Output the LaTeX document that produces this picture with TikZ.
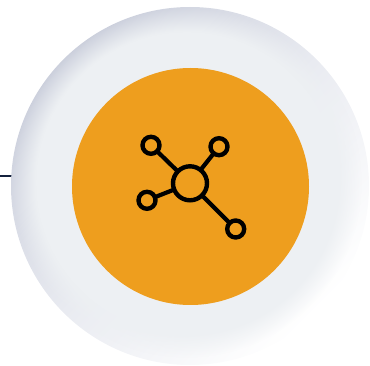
\documentclass[tikz,border=0pt]{standalone}
\usetikzlibrary{fadings}
\definecolor{discface}{HTML}{EDF0F3}
\definecolor{discrim}{HTML}{CBCFDC}
\definecolor{discmid}{HTML}{E9EBF1}
\definecolor{orangefill}{HTML}{EE9E1E}
\definecolor{navyline}{HTML}{14213D}
\pgfdeclareradialshading{discfadeshade}{\pgfpointorigin}{
  color(0bp)=(pgftransparent!0);
  color(21.5bp)=(pgftransparent!0);
  color(24.9bp)=(pgftransparent!100);
  color(50bp)=(pgftransparent!100)}
\pgfdeclarefading{discfade}{\pgfuseshading{discfadeshade}}
\tikzset{
  hubnode/.style={circle,draw=black,line width=4.4pt,inner sep=0pt,outer sep=0pt,minimum size=34pt},
  leafnode/.style={circle,draw=black,line width=4.4pt,inner sep=0pt,outer sep=0pt,minimum size=17pt},
  spoke/.style={draw=black,line width=4.2pt}
}
\begin{document}
\begin{tikzpicture}[x=1pt,y=-1pt]
\useasboundingbox (0,0) rectangle (370,366);
\coordinate (lineend) at (0,176);
\coordinate (discedge) at (12,176);
\draw[navyline,line width=1.4pt] (lineend) -- (discedge);
\shade[top color=discrim,bottom color=white,middle color=discmid,shading angle=45] (190,186) circle[radius=179];
\fill[discface,path fading=discfade,fit fading=true] (186.5,182.5) circle[radius=175];
\fill[orangefill] (190.5,186.5) circle[radius=118.5];
\node[hubnode] (hub) at (190,183.3) {};
\node[leafnode] (a) at (151,145.3) {};
\node[leafnode] (b) at (219,146.7) {};
\node[leafnode] (c) at (147,200.3) {};
\node[leafnode] (d) at (235.7,229) {};
\draw[spoke] (hub) -- (a);
\draw[spoke] (hub) -- (b);
\draw[spoke] (hub) -- (c);
\draw[spoke] (hub) -- (d);
\end{tikzpicture}
\end{document}
